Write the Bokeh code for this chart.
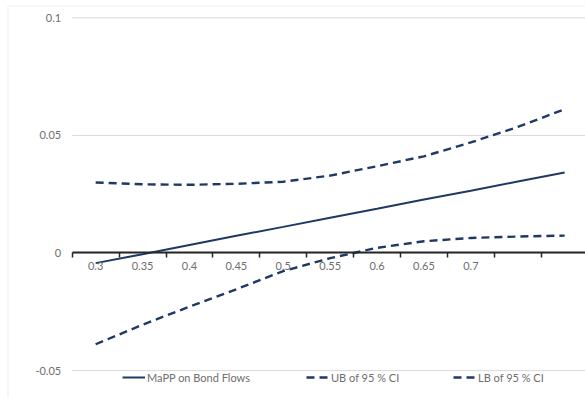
from bokeh.plotting import figure
from bokeh.models import (Range1d, LinearAxis, FixedTicker, Legend, LegendItem,
                          BoxAnnotation)
from bokeh.embed import file_html
from bokeh.resources import INLINE

# Threshold categories (the last two categories carry no label)
thresholds = [0.3, 0.35, 0.4, 0.45, 0.5, 0.55, 0.6, 0.65, 0.7, 0.75, 0.8]
x_tick_labels = ["0.3", "0.35", "0.4", "0.45", "0.5", "0.55", "0.6", "0.65", "0.7", "", ""]

# Marginal effect of MaPP on bond flows and its 95 % confidence band
mapp_effect = [-0.0043, -0.0005, 0.0034, 0.0073, 0.0111, 0.0150,
               0.0188, 0.0227, 0.0265, 0.0304, 0.0342]
upper_ci = [0.0300, 0.0292, 0.0290, 0.0294, 0.0303, 0.0329,
            0.0369, 0.0411, 0.0470, 0.0536, 0.0611]
lower_ci = [-0.0388, -0.0305, -0.0228, -0.0154, -0.0077, -0.0022,
            0.0022, 0.0050, 0.0064, 0.0070, 0.0074]

y_ticks = [-0.05, 0, 0.05, 0.1]
y_tick_labels = ["-0.05", "0", "0.05", "0.1"]

series_names = ["MaPP on Bond Flows", "UB of 95 % CI", "LB of 95 % CI"]

NAVY = "#1F3864"
GRID = "#d9d9d9"
TEXT = "#6e6e6e"
FONT = "Lato"

# category boundaries: half a step either side of every threshold
half_step = (thresholds[1] - thresholds[0]) / 2
boundaries = [x - half_step for x in thresholds] + [thresholds[-1] + half_step]

p = figure(width=585, height=398,
           x_range=Range1d(0.19856, 0.82222), y_range=Range1d(-0.06186, 0.10735),
           x_axis_type=None, y_axis_type=None,
           toolbar_location=None, output_backend="svg",
           min_border=0, outline_line_color=None,
           background_fill_color="white", border_fill_color="white")

# chart-area border (left and top edges)
p.add_layout(BoxAnnotation(left=7.5, right=900, top=392.5, bottom=-200,
                           left_units="screen", right_units="screen",
                           top_units="screen", bottom_units="screen",
                           fill_color=None, line_color="#d0d0d0", line_width=1))

# horizontal gridlines across the plot area
p.segment(x0=boundaries[0], x1=boundaries[-1], y0=y_ticks, y1=y_ticks,
          line_color=GRID, line_width=1)

# value axis on the left edge of the plot area
yaxis = LinearAxis(fixed_location=boundaries[0],
                   ticker=FixedTicker(ticks=y_ticks),
                   major_label_overrides=dict(zip(y_ticks, y_tick_labels)),
                   axis_line_color=None, major_tick_line_color=None,
                   minor_tick_line_color=None, major_tick_in=0, major_tick_out=0,
                   major_label_standoff=11,
                   major_label_text_font=FONT, major_label_text_font_size="11px",
                   major_label_text_color=TEXT)
p.add_layout(yaxis, "left")

# series
r_mid = p.line(thresholds, mapp_effect, line_color=NAVY, line_width=2)
r_ub = p.line(thresholds, upper_ci, line_color=NAVY, line_width=2.4, line_dash="8 5")
r_lb = p.line(thresholds, lower_ci, line_color=NAVY, line_width=2.4, line_dash="8 5")

# category axis crossing at zero: line and ticks at the category boundaries
xaxis = LinearAxis(fixed_location=0,
                   ticker=FixedTicker(ticks=boundaries),
                   bounds=(boundaries[0], boundaries[-1]),
                   major_label_overrides={b: "" for b in boundaries},
                   axis_line_color="#262626", axis_line_width=2,
                   major_tick_line_color="#262626", major_tick_line_width=1.5,
                   major_tick_in=0, major_tick_out=5,
                   minor_tick_line_color=None)
p.add_layout(xaxis, "below")

# category labels centred in each category
labelled = [(x, t) for x, t in zip(thresholds, x_tick_labels) if t]
xlabels = LinearAxis(fixed_location=0,
                     ticker=FixedTicker(ticks=[x for x, _ in labelled]),
                     major_label_overrides=dict(labelled),
                     axis_line_color=None, major_tick_line_color=None,
                     minor_tick_line_color=None, major_tick_in=0, major_tick_out=0,
                     major_label_standoff=9,
                     major_label_text_font=FONT, major_label_text_font_size="11px",
                     major_label_text_color=TEXT)
p.add_layout(xlabels, "below")

# legend entries along the bottom
for name, renderer, pos in zip(series_names, [r_mid, r_ub, r_lb],
                               [(122, 14.5), (306, 14.5), (453, 14.5)]):
    leg = Legend(items=[LegendItem(label=name, renderers=[renderer])],
                 location=pos, orientation="horizontal",
                 padding=0, margin=0, border_line_color=None,
                 background_fill_alpha=0,
                 glyph_width=23, glyph_height=12, label_height=12,
                 label_standoff=2,
                 label_text_font=FONT, label_text_font_size="11px",
                 label_text_color=TEXT, label_text_baseline="middle")
    p.add_layout(leg)

open("out.html", "w").write(file_html(p, INLINE))
